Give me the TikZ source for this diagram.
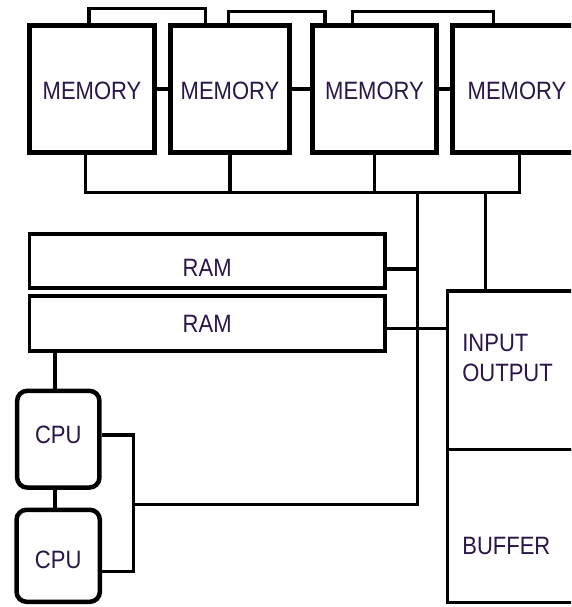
\documentclass[tikz,border=0pt]{standalone}
\usepackage{fontspec}
\setmainfont{Liberation Sans}
\usepackage{graphicx}
\definecolor{txtc}{RGB}{42,22,72}
\newcommand{\tx}[1]{\scalebox{1}[1.14]{#1}}
\newcommand{\bl}[2]{\raisebox{#1}[0pt][0pt]{#2}}
\begin{document}
\begin{tikzpicture}[x=1pt,y=-1pt,
  every node/.style={font=\fontsize{22}{30}\selectfont, text=txtc},
  mem/.style={draw, line width=5pt, rectangle, minimum height=127pt, inner sep=0pt},
  ram/.style={draw, line width=3.4pt, rectangle, minimum width=355.7pt, inner sep=0pt},
  cpu/.style={draw, line width=4.5pt, rectangle, rounded corners=10pt, inner sep=0pt},
  iobox/.style={draw, line width=3.3pt, rectangle, inner xsep=15pt, inner ysep=0pt,
    minimum width=150pt, text width=120pt, align=left, anchor=north west},
  wire/.style={line width=3.4pt},
]
\useasboundingbox (0,0) rectangle (571,607);
\fill[white] (0,0) rectangle (571,607);
\clip (0,0) rectangle (571,607);

% memory modules
\node[mem, minimum width=125pt] (m1) at (92,89) {\bl{-10pt}{\tx{MEMORY}}};
\node[mem, minimum width=119pt] (m2) at (230,89) {\bl{-10pt}{\tx{MEMORY}}};
\node[mem, minimum width=124pt] (m3) at (374.5,89) {\bl{-10pt}{\tx{MEMORY}}};
\node[mem, minimum width=129pt] (m4) at (517,89) {\bl{-10pt}{\tx{MEMORY}}};

% RAM
\node[ram, minimum height=54pt] (ram1) at (207.15,261) {\bl{-15pt}{\tx{RAM}}};
\node[ram, minimum height=55pt] (ram2) at (207.15,323.5) {\bl{-8.5pt}{\tx{RAM}}};

% CPUs
\node[cpu, minimum width=82.3pt, minimum height=96.7pt] (cpu1) at (58.3,439.2) {\bl{-4pt}{\tx{CPU}}};
\node[cpu, minimum width=83.3pt, minimum height=92pt] (cpu2) at (58.2,555.8) {\bl{-12.5pt}{\tx{CPU}}};

% input/output and buffer
\node[iobox, minimum height=158.4pt] (io) at (445.7,289.3)
  {\bl{-11.5pt}{\begin{tabular}[b]{@{}l@{}}\tx{INPUT}\\\tx{OUTPUT}\end{tabular}}};
\node[iobox, minimum height=153.3pt] (buf) at (445.7,447.7) {\bl{-28.3pt}{\tx{BUFFER}}};

% top links
\coordinate (a1) at (89,8.5);    \coordinate (a2) at (205.5,8.5);
\coordinate (b1) at (228.5,11.5); \coordinate (b2) at (325,11.5);
\coordinate (c1) at (352.3,11.5); \coordinate (c2) at (493.7,11.5);
\draw[wire] (a1 |- m1.north) -- (a1) -- (a2) -- (a2 |- m2.north);
\draw[wire] (b1 |- m2.north) -- (b1) -- (b2) -- (b2 |- m3.north);
\draw[wire] (c1 |- m3.north) -- (c1) -- (c2) -- (c2 |- m4.north);

% side links
\draw[wire] (m1.east) -- (m2.west);
\draw[wire] (m2.east) -- (m3.west);
\draw[wire] (m3.east) -- (m4.west);

% bottom bus
\coordinate (bus1) at (85.3,192.3); \coordinate (bus4) at (519.3,192.3);
\draw[wire] (bus1 |- m1.south) -- (bus1) -- (bus4) -- (bus4 |- m4.south);
\draw[wire] (m2.south) -- (m2.south |- bus1);
\draw[wire] (m3.south) -- (m3.south |- bus1);

% drops
\coordinate (d1) at (417.3,192.3); \coordinate (d2) at (485.7,192.3);
\coordinate (d1b) at (417.3,504.3); \coordinate (br) at (133.3,504.3);
\draw[wire] (d2) -- (d2 |- io.north);
\draw[wire] (d1) -- (d1b) -- (br);

% RAM links
\coordinate (r1) at (417.3,269); \coordinate (r2) at (417.3,328.3);
\draw[wire] (ram1.east |- r1) -- (r1);
\draw[wire] (ram2.east |- r2) -- (r2 -| io.west);

% CPU links
\coordinate (cx) at (55,0);
\draw[wire] (cx |- ram2.south) -- (cx |- cpu1.north);
\draw[wire] (cx |- cpu1.south) -- (cx |- cpu2.north);
\coordinate (bt) at (133.3,435); \coordinate (bb) at (133.3,571.7);
\draw[wire] (cpu1.east |- bt) -- (bt) -- (bb) -- (cpu2.east |- bb);
\end{tikzpicture}
\end{document}
